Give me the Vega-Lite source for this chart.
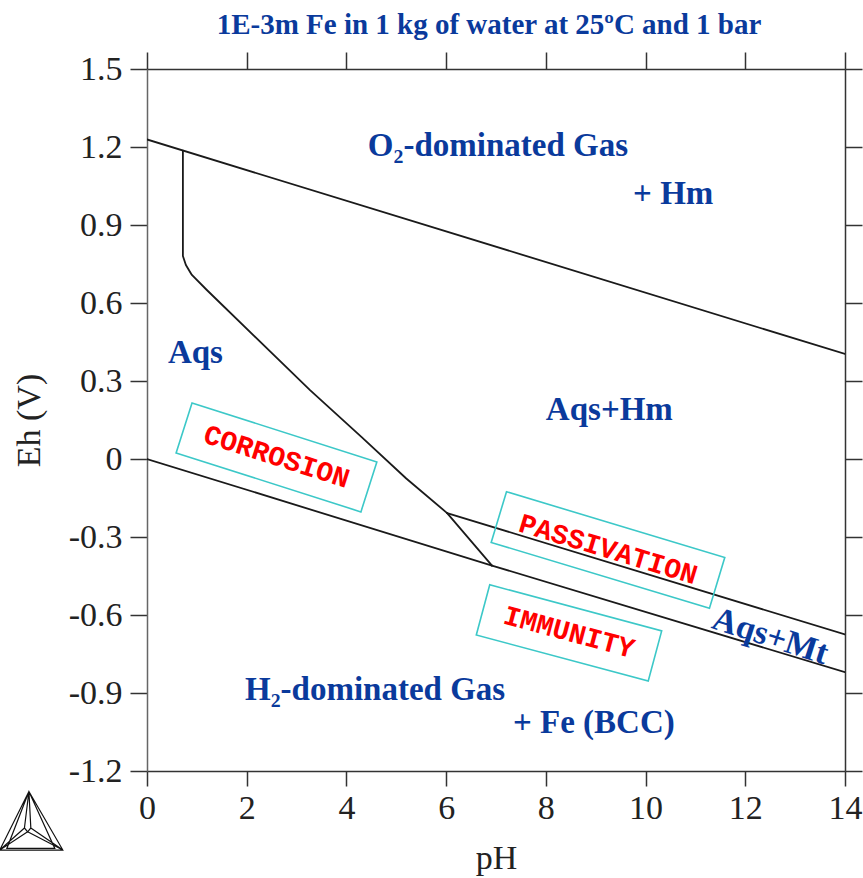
{
  "$schema": "https://vega.github.io/schema/vega-lite/v6.json",
  "width": 698,
  "height": 702,
  "autosize": "none",
  "padding": {"left": 147, "top": 69, "right": 18, "bottom": 107},
  "background": "white",
  "config": {
    "view": {"stroke": null},
    "font": "Liberation Serif",
    "axis": {
      "grid": false,
      "labelFont": "Liberation Serif",
      "labelFontSize": 34,
      "labelColor": "#222222",
      "titleFont": "Liberation Serif",
      "titleFontSize": 34,
      "titleFontWeight": "normal",
      "titleColor": "#222222",
      "domainColor": "#333333",
      "domainWidth": 1.5,
      "tickColor": "#333333",
      "tickWidth": 1.5
    }
  },
  "title": {
    "text": "1E-3m Fe in 1 kg of water at 25ºC and 1 bar",
    "font": "Liberation Serif",
    "fontSize": 29,
    "fontWeight": "bold",
    "color": "#0a3a9c",
    "anchor": "middle",
    "frame": "group",
    "baseline": "alphabetic",
    "offset": -12,
    "dx": -7
  },
  "datasets": {
    "boundaries": [
      {"boundary": "O2/H2O", "i": 0, "pH": 0, "Eh": 1.229},
      {"boundary": "O2/H2O", "i": 1, "pH": 14, "Eh": 0.404},
      {"boundary": "H2O/H2 acid", "i": 0, "pH": 0, "Eh": 0},
      {"boundary": "H2O/H2 acid", "i": 1, "pH": 6.92, "Eh": -0.41},
      {"boundary": "H2O/H2 alkaline", "i": 0, "pH": 6.92, "Eh": -0.41},
      {"boundary": "H2O/H2 alkaline", "i": 1, "pH": 14, "Eh": -0.82},
      {"boundary": "Aqs/Hm", "i": 0, "pH": 0.72, "Eh": 1.186},
      {"boundary": "Aqs/Hm", "i": 1, "pH": 0.72, "Eh": 0.781},
      {"boundary": "Aqs/Hm", "i": 2, "pH": 0.78, "Eh": 0.746},
      {"boundary": "Aqs/Hm", "i": 3, "pH": 0.9, "Eh": 0.708},
      {"boundary": "Aqs/Hm", "i": 4, "pH": 1.2, "Eh": 0.65},
      {"boundary": "Aqs/Hm", "i": 5, "pH": 3.27, "Eh": 0.265},
      {"boundary": "Aqs/Hm", "i": 6, "pH": 4.3, "Eh": 0.085},
      {"boundary": "Aqs/Hm", "i": 7, "pH": 5.2, "Eh": -0.075},
      {"boundary": "Aqs/Hm", "i": 8, "pH": 6.02, "Eh": -0.208},
      {"boundary": "Hm/Mt", "i": 0, "pH": 6.02, "Eh": -0.208},
      {"boundary": "Hm/Mt", "i": 1, "pH": 14, "Eh": -0.675},
      {"boundary": "Aqs/Mt", "i": 0, "pH": 6.02, "Eh": -0.208},
      {"boundary": "Aqs/Mt", "i": 1, "pH": 6.92, "Eh": -0.41}
    ],
    "regions": [
      {"label": "O₂-dominated Gas", "pH": 4.43, "Eh": 1.202},
      {"label": "+ Hm", "pH": 9.75, "Eh": 1.021},
      {"label": "Aqs", "pH": 0.42, "Eh": 0.408},
      {"label": "Aqs+Hm", "pH": 8.0, "Eh": 0.188},
      {"label": "H₂-dominated Gas", "pH": 1.966, "Eh": -0.89},
      {"label": "+ Fe (BCC)", "pH": 7.34, "Eh": -1.017}
    ],
    "tilted": [
      {"label": "Aqs+Mt", "pH": 12.5, "Eh": -0.683}
    ],
    "behaviour": [
      {"label": "CORROSION", "pH": 2.597, "Eh": 0.006},
      {"label": "PASSIVATION", "pH": 9.246, "Eh": -0.35},
      {"label": "IMMUNITY", "pH": 8.464, "Eh": -0.669}
    ]
  },
  "resolve": {"axis": {"x": "independent", "y": "independent"}},
  "layer": [
    {
      "data": {"name": "boundaries"},
      "mark": {"type": "line", "color": "#1a1a1a", "strokeCap": "round", "strokeJoin": "round", "clip": true},
      "encoding": {
        "x": {
          "field": "pH", "type": "quantitative",
          "scale": {"domain": [0, 14], "nice": false, "zero": false},
          "axis": {
            "orient": "bottom", "title": "pH", "values": [0, 2, 4, 6, 8, 10, 12, 14],
            "tickSize": 15, "labelPadding": 5, "titlePadding": 16, "labelFlush": false, "labelOverlap": false
          }
        },
        "y": {
          "field": "Eh", "type": "quantitative",
          "scale": {"domain": [-1.2, 1.5], "nice": false, "zero": false},
          "axis": {
            "orient": "left", "title": "Eh (V)",
            "values": [-1.2, -0.9, -0.6, -0.3, 0, 0.3, 0.6, 0.9, 1.2, 1.5],
            "labelExpr": "datum.value == 0 ? '0' : replace(format(datum.value, '.1f'), '\u2212', '-')",
            "tickSize": 17, "labelPadding": 8, "titlePadding": 22,
            "domainColor": "#666666", "labelFlush": false, "labelOverlap": false
          }
        },
        "detail": {"field": "boundary"},
        "order": {"field": "i"},
        "strokeWidth": {
          "field": "boundary", "type": "nominal", "legend": null,
          "scale": {
            "domain": ["O2/H2O", "H2O/H2 acid", "H2O/H2 alkaline", "Aqs/Hm", "Hm/Mt", "Aqs/Mt"],
            "range": [1.8, 1.8, 1.1, 1.8, 1.6, 1.0]
          }
        }
      }
    },
    {
      "data": {"name": "regions"},
      "mark": {
        "type": "text", "font": "Liberation Serif", "fontSize": 33, "fontWeight": "bold",
        "color": "#0a3a9c", "align": "left", "baseline": "middle"
      },
      "encoding": {
        "x": {
          "field": "pH", "type": "quantitative",
          "axis": {"orient": "top", "labels": false, "title": null, "tickSize": 17, "values": [0, 2, 4, 6, 8, 10, 12, 14]}
        },
        "y": {
          "field": "Eh", "type": "quantitative",
          "axis": {"orient": "right", "labels": false, "title": null, "tickSize": 17, "values": [-1.2, -0.9, -0.6, -0.3, 0, 0.3, 0.6, 0.9, 1.2, 1.5]}
        },
        "text": {"field": "label"}
      }
    },
    {
      "data": {"name": "tilted"},
      "mark": {
        "type": "text", "font": "Liberation Serif", "fontSize": 34, "fontWeight": "bold",
        "color": "#0a3a9c", "align": "center", "baseline": "middle", "angle": 18
      },
      "encoding": {
        "x": {"field": "pH", "type": "quantitative", "axis": null},
        "y": {"field": "Eh", "type": "quantitative", "axis": null},
        "text": {"field": "label"}
      }
    },
    {
      "data": {"name": "behaviour"},
      "transform": [{"filter": "datum.label == 'CORROSION'"}],
      "layer": [
        {
          "mark": {
            "type": "point", "shape": "M-1,-0.27L1,-0.27L1,0.27L-1,0.27Z", "size": 37636,
            "angle": 17.7, "filled": false, "stroke": "#3cc8c8", "strokeWidth": 1.6, "opacity": 1
          },
          "encoding": {
            "x": {"field": "pH", "type": "quantitative", "axis": null},
            "y": {"field": "Eh", "type": "quantitative", "axis": null}
          }
        },
        {
          "mark": {
            "type": "text", "font": "Courier New", "fontSize": 28, "fontWeight": "bold",
            "color": "#ff0000", "align": "center", "baseline": "middle", "angle": 17.7
          },
          "encoding": {
            "x": {"field": "pH", "type": "quantitative", "axis": null},
            "y": {"field": "Eh", "type": "quantitative", "axis": null},
            "text": {"field": "label"}
          }
        }
      ]
    },
    {
      "data": {"name": "behaviour"},
      "transform": [{"filter": "datum.label == 'PASSIVATION'"}],
      "layer": [
        {
          "mark": {
            "type": "point", "shape": "M-1,-0.2325L1,-0.2325L1,0.2325L-1,0.2325Z", "size": 51984,
            "angle": 16.8, "filled": false, "stroke": "#3cc8c8", "strokeWidth": 1.6, "opacity": 1
          },
          "encoding": {
            "x": {"field": "pH", "type": "quantitative", "axis": null},
            "y": {"field": "Eh", "type": "quantitative", "axis": null}
          }
        },
        {
          "mark": {
            "type": "text", "font": "Courier New", "fontSize": 28, "fontWeight": "bold",
            "color": "#ff0000", "align": "center", "baseline": "middle", "angle": 16.8
          },
          "encoding": {
            "x": {"field": "pH", "type": "quantitative", "axis": null},
            "y": {"field": "Eh", "type": "quantitative", "axis": null},
            "text": {"field": "label"}
          }
        }
      ]
    },
    {
      "data": {"name": "behaviour"},
      "transform": [{"filter": "datum.label == 'IMMUNITY'"}],
      "layer": [
        {
          "mark": {
            "type": "point", "shape": "M-1,-0.292L1,-0.292L1,0.292L-1,0.292Z", "size": 31684,
            "angle": 15, "filled": false, "stroke": "#3cc8c8", "strokeWidth": 1.6, "opacity": 1
          },
          "encoding": {
            "x": {"field": "pH", "type": "quantitative", "axis": null},
            "y": {"field": "Eh", "type": "quantitative", "axis": null}
          }
        },
        {
          "mark": {
            "type": "text", "font": "Courier New", "fontSize": 28, "fontWeight": "bold",
            "color": "#ff0000", "align": "center", "baseline": "middle", "angle": 15
          },
          "encoding": {
            "x": {"field": "pH", "type": "quantitative", "axis": null},
            "y": {"field": "Eh", "type": "quantitative", "axis": null},
            "text": {"field": "label"}
          }
        }
      ]
    },
    {
      "data": {"values": [{"logo": "Thermo-Calc"}]},
      "mark": {
        "type": "point",
        "shape": "M-0.06,-0.92L-0.97,0.91L1,0.91Z M-0.06,-0.92L-0.75,0.86L0.75,0.86Z M-0.06,-0.92L-0.2,0.22L-0.1,0.34L0,0.22Z M-0.2,0.22L-0.97,0.91 M-0.1,0.34L-0.97,0.91 M0,0.22L1,0.91 M-0.1,0.34L1,0.91",
        "size": 4096, "filled": false, "stroke": "#111111", "strokeWidth": 1.2, "opacity": 1, "clip": false
      },
      "encoding": {
        "x": {"datum": -2.33, "type": "quantitative", "axis": null},
        "y": {"datum": -1.392, "type": "quantitative", "axis": null}
      }
    }
  ]
}
